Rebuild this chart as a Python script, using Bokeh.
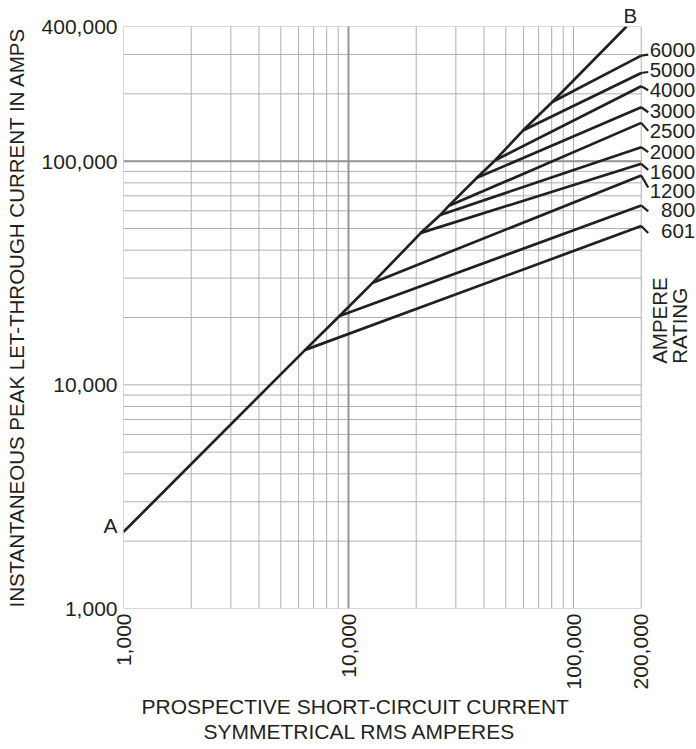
import math
from bokeh.plotting import figure
from bokeh.models import Range1d, FixedTicker, NumeralTickFormatter, LabelSet, Label, Title, ColumnDataSource
from bokeh.core.properties import value
from bokeh.embed import file_html
from bokeh.resources import INLINE

# ---------------- data ----------------
X_MIN, X_MAX = 1000, 200000
Y_MIN, Y_MAX = 1000, 400000
X_TICKS = [1000, 10000, 100000, 200000]
Y_TICKS = [1000, 10000, 100000, 400000]
X_GRID = [m * 10 ** e for e in (3, 4) for m in range(1, 10)] + [100000, 200000]
Y_GRID = [m * 10 ** e for e in (3, 4) for m in range(1, 10)] + [100000, 200000, 300000, 400000]
X_HEAVY = [10000]
Y_HEAVY = [100000]

RATINGS = ["601", "800", "1200", "1600", "2000", "2500", "3000", "4000", "5000", "6000"]
KNEE_X = [6420, 9120, 12830, 20980, 25560, 27820, 37220, 44870, 59600, 80500]
KNEE_Y = [14330, 20320, 28630, 47800, 57410, 62960, 84250, 101000, 137000, 184000]
END_Y = [51300, 63400, 86300, 97300, 115500, 148300, 174200, 216200, 247900, 296500]

A_X, A_Y = 1000, 2200
B_X, B_Y = 172000, 400000

# ---------------- style / layout ----------------
INK = "#231f20"
GRID = "#b0b0b0"
HEAVY = "#969696"
FONT = "Liberation Sans"
W, H = 696, 749
LEFT, TOP, BOTTOM = 123, 26, 141
PX_X = 225.0
frame_w = W - LEFT
x_end = 10 ** (math.log10(X_MIN) + frame_w / PX_X)
PX_Y = (H - TOP - BOTTOM) / math.log10(Y_MAX / Y_MIN)

# label offsets (pixels, positive = below line end) and leader drops
LABEL_DY = [5, 5, 16, 8, 5, 8, 4, 4, -3, -6]
LEADER_DY = [7, 6, 12, 6, 5, 8, 5, 4, -1, -1]
LEADER_DX = 7

# "A" is shown as a label just left of the y axis, a little above the line start
A_TICK = round(A_Y * 10 ** (6 / PX_Y))

p = figure(width=W, height=H, x_axis_type="log", y_axis_type="log",
           x_range=Range1d(X_MIN, x_end), y_range=Range1d(Y_MIN, Y_MAX),
           output_backend="svg", toolbar_location=None,
           min_border_left=LEFT, min_border_right=0, min_border_top=TOP,
           min_border_bottom=BOTTOM)
p.outline_line_color = None
p.xgrid.visible = False
p.ygrid.visible = False

for ax, ticks, standoff in ((p.xaxis, X_TICKS, 5), (p.yaxis, Y_TICKS + [A_TICK], 6)):
    ax.ticker = FixedTicker(ticks=ticks, minor_ticks=[])
    ax.formatter = NumeralTickFormatter(format="0,0")
    ax.axis_line_color = None
    ax.major_tick_line_color = None
    ax.minor_tick_line_color = None
    ax.major_tick_out = 0
    ax.minor_tick_out = 0
    ax.major_tick_in = 0
    ax.minor_tick_in = 0
    ax.major_label_standoff = standoff
    ax.major_label_text_font = FONT
    ax.major_label_text_font_size = "21px"
    ax.major_label_text_color = INK
p.xaxis.major_label_orientation = math.pi / 2
p.yaxis.major_label_overrides = {A_TICK: "A", str(A_TICK): "A"}

p.yaxis.axis_label = "INSTANTANEOUS PEAK LET-THROUGH CURRENT IN AMPS"
p.yaxis.axis_label_text_font = FONT
p.yaxis.axis_label_text_font_size = "20.5px"
p.yaxis.axis_label_text_font_style = "normal"
p.yaxis.axis_label_text_color = INK
p.yaxis.axis_label_standoff = 11

# grid drawn as segments bounded by the data limits
p.segment(x0=X_GRID, x1=X_GRID, y0=[Y_MIN] * len(X_GRID), y1=[Y_MAX] * len(X_GRID),
          line_color=GRID, line_width=1)
p.segment(x0=[X_MIN] * len(Y_GRID), x1=[X_MAX] * len(Y_GRID), y0=Y_GRID, y1=Y_GRID,
          line_color=GRID, line_width=1)
p.segment(x0=X_HEAVY, x1=X_HEAVY, y0=[Y_MIN] * len(X_HEAVY), y1=[Y_MAX] * len(X_HEAVY),
          line_color=HEAVY, line_width=2)
p.segment(x0=[X_MIN] * len(Y_HEAVY), x1=[X_MAX] * len(Y_HEAVY), y0=Y_HEAVY, y1=Y_HEAVY,
          line_color=HEAVY, line_width=2)

# main A-B line through the knees
main_x = [A_X] + KNEE_X + [B_X]
main_y = [A_Y] + KNEE_Y + [B_Y]
p.line(main_x, main_y, line_color=INK, line_width=2.7, line_join="round")

# rating branches
p.multi_line(xs=[[kx, X_MAX] for kx in KNEE_X], ys=[[ky, ey] for ky, ey in zip(KNEE_Y, END_Y)],
             line_color=INK, line_width=2.7, line_join="round")

# leaders from branch ends to labels
lx = X_MAX * 10 ** (LEADER_DX / PX_X)
p.multi_line(xs=[[X_MAX, lx] for _ in END_Y],
             ys=[[ey, ey * 10 ** (-d / PX_Y)] for ey, d in zip(END_Y, LEADER_DY)],
             line_color=INK, line_width=2.2, line_join="round")

src = ColumnDataSource(dict(x=[X_MAX] * len(RATINGS), y=END_Y, text=RATINGS,
                            yo=[-d for d in LABEL_DY]))
p.add_layout(LabelSet(x="x", y="y", text="text", source=src, x_offset=54, y_offset="yo",
                      text_align="right", text_baseline="middle",
                      text_font=value(FONT), text_font_size=value("20.5px"), text_color=INK))

def lab(**kw):
    base = dict(text_font=FONT, text_font_size="20.5px", text_color=INK)
    base.update(kw)
    p.add_layout(Label(**base))

lab(x=X_MAX, y=10000, text="AMPERE", x_offset=18, y_offset=21, angle=math.pi / 2,
    text_align="left", text_baseline="middle")
lab(x=X_MAX, y=10000, text="RATING", x_offset=38, y_offset=21, angle=math.pi / 2,
    text_align="left", text_baseline="middle")

# "B" sits just above the top edge, over the end of the line
b_off = math.log10(B_X / X_MIN) * PX_X - 3
p.add_layout(Title(text="B", align="left", offset=b_off, standoff=0, text_font=FONT,
                   text_font_size="20.5px", text_font_style="normal", text_color=INK), "above")

p.add_layout(Title(text="PROSPECTIVE SHORT-CIRCUIT CURRENT", align="left", offset=18, standoff=0,
                   text_font=FONT, text_font_size="21px", text_font_style="normal",
                   text_line_height=1.0, text_color=INK), "below")
p.add_layout(Title(text="SYMMETRICAL RMS AMPERES", align="left", offset=80, standoff=0,
                   text_font=FONT, text_font_size="21px", text_font_style="normal",
                   text_line_height=1.0, text_color=INK), "below")

open("out.html", "w").write(file_html(p, INLINE))
